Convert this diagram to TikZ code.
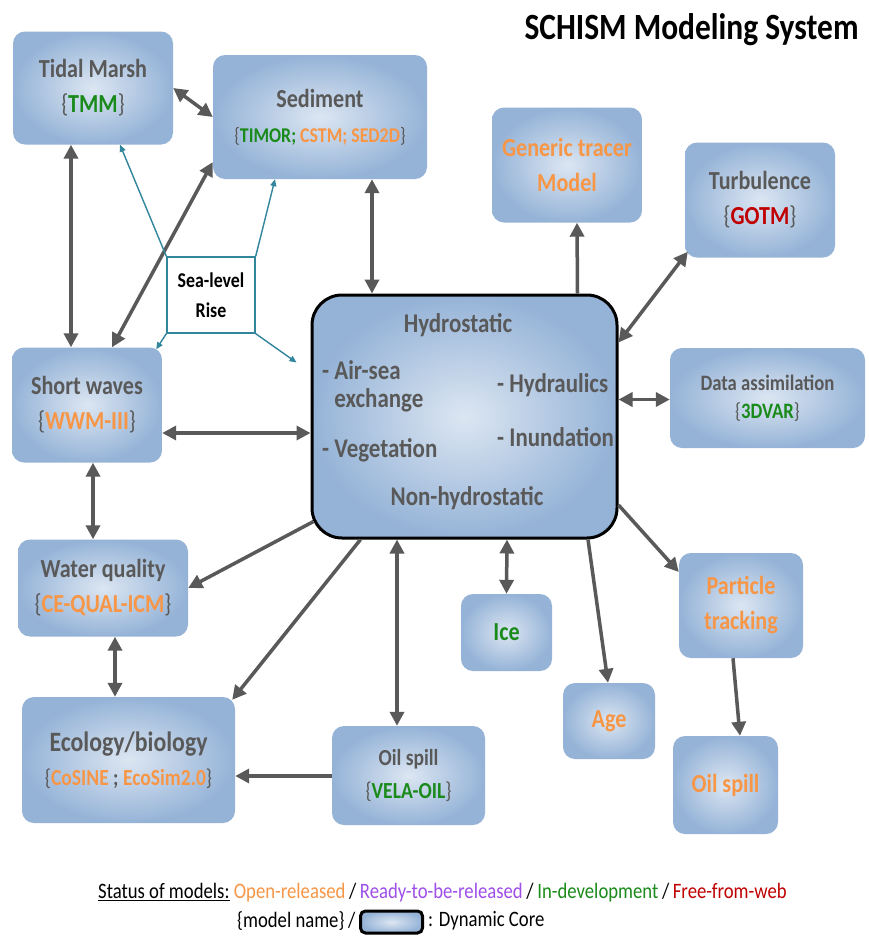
\documentclass[tikz,border=0pt]{standalone}
\usepackage{fontspec}
\setmainfont{Carlito}[FakeStretch=0.85]
\usepackage{xcolor}
\usepackage{tikz}
\usetikzlibrary{arrows.meta}
\definecolor{boxin}{HTML}{DCE6F2}
\definecolor{boxout}{HTML}{95B3D7}
\definecolor{txtgray}{HTML}{595959}
\definecolor{arrgray}{HTML}{595959}
\definecolor{orng}{HTML}{F79646}
\definecolor{grn}{HTML}{1A8A1A}
\definecolor{redd}{HTML}{C00000}
\definecolor{purp}{HTML}{9E4FE8}
\definecolor{risecolor}{HTML}{31859C}
\newcommand{\mname}[1]{{\mdseries\{}#1{\mdseries\}}}

\begin{document}
\begin{tikzpicture}[x=1pt,y=-1pt,
  model/.style={rounded corners=12pt,inner color=boxin,outer color=boxout,align=center,text=txtgray,font=\bfseries\fontsize{26}{35}\selectfont,inner sep=0pt},
  twoway/.style={draw=arrgray,line width=3.5pt,{Triangle[length=14pt,width=14pt]}-{Triangle[length=14pt,width=14pt]}},
  oneway/.style={draw=arrgray,line width=3.5pt,-{Triangle[length=14pt,width=14pt]}},
  rise/.style={draw=risecolor,line width=1.4pt,-{Triangle[length=7pt,width=6pt]}},
  coretext/.style={text=txtgray,font=\bfseries\fontsize{27}{28}\selectfont,inner sep=0pt},
  legend/.style={anchor=west,inner sep=0pt,font=\fontsize{22}{24}\selectfont}]
\useasboundingbox (0,0) rectangle (868,940);
\fill[white] (0,0) rectangle (868,940);

\node[anchor=east,font=\bfseries\fontsize{37}{42}\selectfont] (title) at (862,30) {SCHISM Modeling System};

\node[model,minimum width=160pt,minimum height=113pt] (tidal) at (93,88) {Tidal Marsh\\\mname{\textcolor{grn}{TMM}}};
\node[model,minimum width=214pt,minimum height=124pt] (sediment) at (320,117) {Sediment\\{\fontsize{21}{26}\selectfont\mname{\textcolor{grn}{TIMOR;} \textcolor{orng}{CSTM; SED2D}}}};
\node[model,text=orng,minimum width=150pt,minimum height=115pt] (tracer) at (567,165) {Generic tracer\\Model};
\node[model,minimum width=150pt,minimum height=115pt] (turb) at (760,200) {Turbulence\\\mname{\textcolor{redd}{GOTM}}};
\node[draw=risecolor,line width=1.4pt,fill=white,align=center,minimum width=88pt,minimum height=76pt,inner sep=0pt,font=\bfseries\fontsize{21}{30}\selectfont] (slr) at (211,295) {Sea-level\\Rise};

\node[model,draw=black,line width=3pt,rounded corners=30pt,minimum width=305pt,minimum height=243pt] (core) at (464.5,416.5) {};
\node[coretext] (hydro) at (458,325) {Hydrostatic};
\node[coretext,anchor=west,align=left] (airsea) at (322,386) {- Air-sea\\\phantom{- }exchange};
\node[coretext,anchor=west] (veg) at (322,450) {- Vegetation};
\node[coretext,anchor=west] (hydraul) at (497,385) {- Hydraulics};
\node[coretext,anchor=west] (inund) at (497,437) {- Inundation};
\node[coretext] (nonhydro) at (467,498) {Non-hydrostatic};

\node[model,minimum width=150pt,minimum height=115pt] (waves) at (87,405) {Short waves\\\mname{\textcolor{orng}{WWM-III}}};
\node[model,font=\bfseries\fontsize{22}{28}\selectfont,minimum width=195pt,minimum height=100pt] (assim) at (767.5,398) {Data assimilation\\\mname{\textcolor{grn}{3DVAR}}};
\node[model,minimum width=170pt,minimum height=97pt] (wq) at (103,588) {Water quality\\\mname{\textcolor{orng}{CE-QUAL-ICM}}};
\node[model,font=\bfseries\fontsize{28}{34}\selectfont,minimum width=213pt,minimum height=126pt] (eco) at (128.5,760) {Ecology/biology\\{\fontsize{23}{28}\selectfont\mname{\textcolor{orng}{CoSINE} ; \textcolor{orng}{EcoSim2.0}}}};
\node[model,font=\bfseries\fontsize{23}{33}\selectfont,minimum width=153pt,minimum height=99pt] (oilvela) at (408.5,775.5) {Oil spill\\\mname{\textcolor{grn}{VELA-OIL}}};
\node[model,text=grn,minimum width=91pt,minimum height=77pt] (ice) at (506.5,632.5) {Ice};
\node[model,text=orng,minimum width=92pt,minimum height=76pt] (age) at (609,721) {Age};
\node[model,text=orng,minimum width=124pt,minimum height=105pt] (ptrack) at (741,605.5) {Particle\\tracking};
\node[model,text=orng,minimum width=105pt,minimum height=98pt] (oilspill) at (725.5,785) {Oil spill};

\draw[twoway] (tidal.east) -- (sediment.west);
\draw[twoway] ([xshift=-22pt]tidal.south) -- ([xshift=-16pt]waves.north);
\draw[twoway] ([xshift=25pt]waves.north) -- ([yshift=-45pt]sediment.west);
\draw[twoway] ([xshift=52pt]sediment.south) -- ([xshift=-92.5pt]core.north);
\draw[oneway] ([xshift=113pt]core.north) -- ([xshift=10pt]tracer.south);
\draw[twoway] ([yshift=74pt]core.east) -- ([shift={(3pt,6pt)}]turb.south west);
\draw[twoway] ([yshift=17pt]core.east) -- ([yshift=-1.5pt]assim.west);
\draw[twoway] ([yshift=-28pt]waves.east) -- ([yshift=-16.5pt]core.west);
\draw[twoway] ([xshift=6pt]waves.south) -- ([xshift=-10pt]wq.north);
\draw[oneway] ([shift={(3pt,-105pt)}]core.west) -- (wq.east);
\draw[oneway] ([xshift=-104pt]core.south) -- ([shift={(-3pt,-3pt)}]eco.north east);
\draw[twoway] ([xshift=12pt]wq.south) -- ([xshift=-13.5pt]eco.north);
\draw[twoway] ([xshift=-67.5pt]core.south) -- ([xshift=-11.5pt]oilvela.north);
\draw[oneway] ([yshift=-0.5pt]oilvela.west) -- ([yshift=-16pt]eco.east);
\draw[twoway] ([xshift=42.5pt]core.south) -- (ice.north);
\draw[oneway] ([xshift=123.5pt]core.south) -- ([xshift=-1pt]age.north);
\draw[oneway] ([yshift=-88.5pt]core.east) -- ([yshift=33.5pt]ptrack.west);
\draw[oneway] ([xshift=-8pt]ptrack.south) -- ([xshift=14.5pt]oilspill.north);

\draw[rise] (slr.north west) -- ([xshift=27pt]tidal.south);
\draw[rise] (slr.north east) -- ([xshift=-45pt]sediment.south);
\draw[rise] (slr.south west) -- ([shift={(-6pt,-2pt)}]waves.north east);
\draw[rise] (slr.south east) -- ([shift={(-14pt,54pt)}]core.west);

\node[legend] (status) at (98,893) {\underline{Status of models:} \textcolor{orng}{Open-released}\,/\,\textcolor{purp}{Ready-to-be-released}\,/\,\textcolor{grn}{In-development}\,/\,\textcolor{redd}{Free-from-web}};
\node[legend] (legname) at (237,921) {\{model name\}\,/};
\node[draw=black,line width=3pt,rounded corners=5pt,inner color=boxin,outer color=boxout,minimum width=62pt,minimum height=22pt,inner sep=0pt] (legbox) at (391.5,922) {};
\node[legend] (legcore) at (428,921) {: Dynamic Core};
\end{tikzpicture}
\end{document}
